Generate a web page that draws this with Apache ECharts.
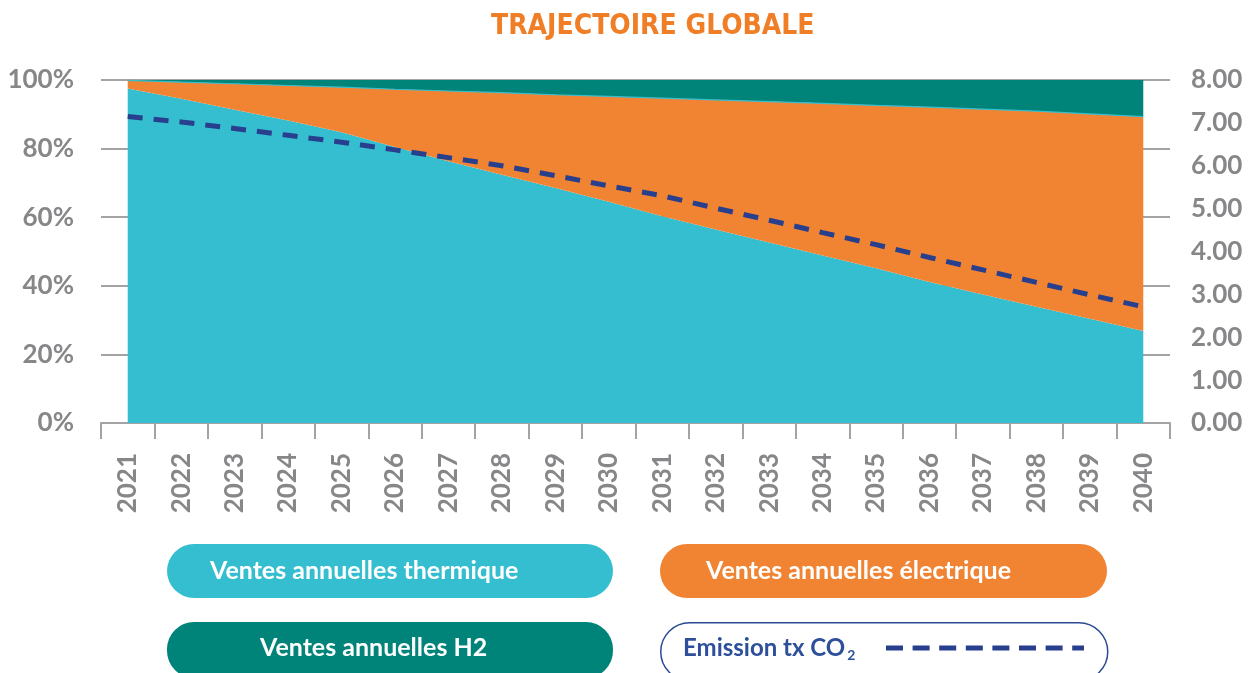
<!DOCTYPE html>
<html>
<head>
<meta charset="utf-8">
<script src="https://cdn.jsdelivr.net/npm/echarts@6/dist/echarts.min.js"></script>
<style>
html,body{margin:0;padding:0;background:#fff;}
#chart{width:1250px;height:673px;}
</style>
</head>
<body>
<div id="chart"></div>
<script>
var years = ['2021','2022','2023','2024','2025','2026','2027','2028','2029','2030','2031','2032','2033','2034','2035','2036','2037','2038','2039','2040'];
var thermique = [97.5, 94.5, 91.3, 88.2, 84.8, 80.5, 76.3, 72.4, 68.5, 64.5, 60.3, 56.4, 52.6, 48.8, 45.1, 41.1, 37.5, 33.9, 30.4, 26.8];
var electrique = [2.4, 4.9, 7.6, 10.2, 13.1, 16.8, 20.5, 23.9, 27.2, 30.7, 34.4, 37.8, 41.1, 44.4, 47.5, 51.0, 54.0, 57.0, 59.7, 62.5];
var h2 = [0.1, 0.6, 1.1, 1.6, 2.1, 2.7, 3.2, 3.7, 4.3, 4.8, 5.3, 5.8, 6.3, 6.8, 7.4, 7.9, 8.5, 9.1, 9.9, 10.7];
var co2 = [7.15, 7.02, 6.87, 6.71, 6.55, 6.37, 6.19, 6.00, 5.77, 5.53, 5.30, 5.01, 4.73, 4.44, 4.16, 3.86, 3.57, 3.28, 2.99, 2.71];
var leftTicks = [0, 100, 20];
var rightTicks = [0, 8, 1];

var C_TH = '#35BED0', C_EL = '#F08433', C_H2 = '#00847A', C_CO2 = '#283F8E';
var GREY = '#87878A', LINE = '#A3A3A3';
var FONT = 'Lato, "Open Sans", sans-serif';

var chart = echarts.init(document.getElementById('chart'), null, {renderer:'canvas'});
var option = {
  animation: false,
  title: {
    text: 'TRAJECTOIRE GLOBALE',
    left: 486, top: 8,
    textStyle: {color:'#F07E26', fontSize:28, fontWeight:'bold', fontFamily:'"Liberation Sans Narrow","DejaVu Sans Condensed",sans-serif'}
  },
  grid: {left:101, right:80, top:80, bottom:250},
  xAxis: {
    type:'category', data: years, boundaryGap:true,
    axisLine:{lineStyle:{color:LINE, width:2}},
    axisTick:{show:true, length:16, lineStyle:{color:LINE, width:2}},
    axisLabel:{rotate:90, interval:0, margin:30, color:GREY, fontSize:26, fontWeight:'bold', fontFamily:FONT}
  },
  yAxis: [{
    type:'value', min:leftTicks[0], max:leftTicks[1], interval:leftTicks[2],
    axisLine:{show:false}, axisTick:{show:false},
    splitLine:{lineStyle:{color:LINE, width:2}},
    axisLabel:{formatter:'{value}%', margin:27, color:GREY, fontSize:26, fontWeight:'bold', fontFamily:FONT}
  },{
    type:'value', min:rightTicks[0], max:rightTicks[1], interval:rightTicks[2], position:'right',
    axisLine:{show:false}, axisTick:{show:false}, splitLine:{show:false},
    axisLabel:{formatter:function(v){return v.toFixed(2);}, margin:21, color:GREY, fontSize:26, fontWeight:'bold', fontFamily:FONT}
  }],
  series: [
    {name:'Ventes annuelles thermique', type:'line', stack:'s', data:thermique, showSymbol:false, symbol:'none',
     lineStyle:{width:0}, areaStyle:{color:C_TH, opacity:1}, itemStyle:{color:C_TH}},
    {name:'Ventes annuelles électrique', type:'line', stack:'s', data:electrique, showSymbol:false, symbol:'none',
     lineStyle:{width:1.2, color:C_TH}, areaStyle:{color:C_EL, opacity:1}, itemStyle:{color:C_EL}},
    {name:'Ventes annuelles H2', type:'line', stack:'s', data:h2, showSymbol:false, symbol:'none',
     lineStyle:{width:0}, areaStyle:{color:C_H2, opacity:1}, itemStyle:{color:C_H2}},
    {name:'Emission tx CO2', type:'line', yAxisIndex:1, data:co2, showSymbol:false, symbol:'none', z:5,
     lineStyle:{width:5, color:C_CO2, type:[15,11]}, itemStyle:{color:C_CO2}}
  ],
  graphic: [
    {type:'rect', left:167, top:544, shape:{width:446, height:54, r:27}, style:{fill:C_TH}},
    {type:'text', x:210, y:571, style:{text:'Ventes annuelles thermique', fill:'#fff', font:'bold 25px '+FONT, verticalAlign:'middle'}},
    {type:'rect', left:660, top:544, shape:{width:447, height:54, r:27}, style:{fill:C_EL}},
    {type:'text', x:706, y:571, style:{text:'Ventes annuelles électrique', fill:'#fff', font:'bold 25px '+FONT, verticalAlign:'middle'}},
    {type:'rect', left:167, top:622, shape:{width:446, height:56, r:27}, style:{fill:C_H2}},
    {type:'text', x:260, y:648, style:{text:'Ventes annuelles H2', fill:'#fff', font:'bold 25px '+FONT, verticalAlign:'middle'}},
    {type:'rect', left:660, top:622, shape:{width:447, height:58, r:29}, style:{fill:'#fff', stroke:'#2B4A94', lineWidth:1.5}},
    {type:'text', x:683, y:648, style:{
      text:'{a|Emission tx CO}{b|2}', verticalAlign:'middle', fill:'#2E4F9A',
      rich:{a:{fontSize:24, fontWeight:'bold', fontFamily:FONT, fill:'#2E4F9A'},
            b:{fontSize:14, fontWeight:'bold', fontFamily:FONT, fill:'#2E4F9A', verticalAlign:'bottom', padding:[14,0,0,2]}}
    }},
    {type:'line', shape:{x1:886, y1:648, x2:1084, y2:648}, style:{stroke:C_CO2, lineWidth:5, lineDash:[17,9.6]}}
  ]
};
chart.setOption(option);
</script>
</body>
</html>
